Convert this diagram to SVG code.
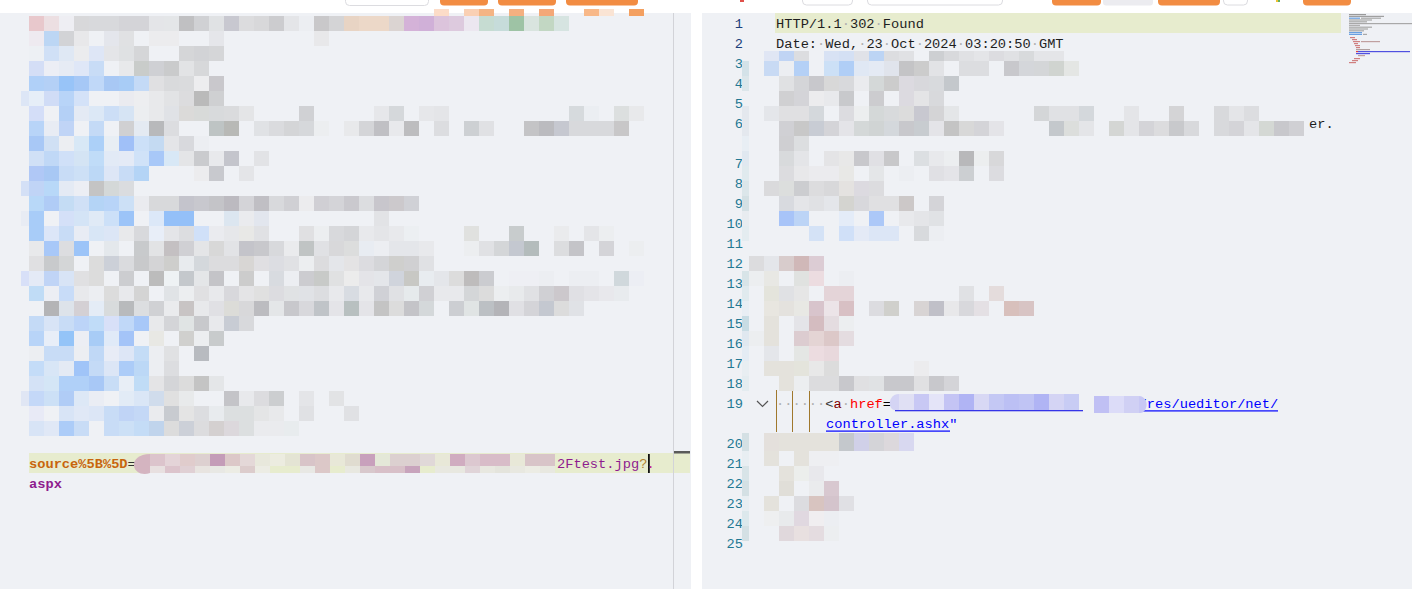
<svg xmlns="http://www.w3.org/2000/svg" width="1412" height="589" viewBox="0 0 1412 589">
<style>
.t{font-family:"Liberation Mono","DejaVu Sans Mono",monospace;font-size:13.7px}
.ln{fill:#237893;text-anchor:end}
.ln0{fill:#1b3f7a;text-anchor:end}
.d{fill:#b0b0b0}
.or{fill:#f28c42}
.ol{fill:#fff;stroke:#dcdce0;stroke-width:1}
.guide{stroke:#a0782d;stroke-width:1}
</style>
<rect width="1412" height="589" fill="#fff"/>
<g id="toolbar">
<rect class="ol" x="345.5" y="-6" width="83" height="11.5" rx="4"/>
<rect class="or" x="440" y="-6" width="48" height="11.5" rx="4"/>
<rect class="or" x="498" y="-6" width="58" height="11.5" rx="4"/>
<rect class="or" x="566" y="-6" width="72" height="11.5" rx="4"/>
<rect x="740" y="0" width="4" height="2" fill="#e0504a"/>
<rect class="ol" x="802.5" y="-6" width="50" height="11" rx="4"/>
<rect class="ol" x="867.5" y="-6" width="135" height="11" rx="4"/>
<rect class="or" x="1052" y="-6" width="49" height="11.5" rx="4"/>
<rect x="1103" y="-6" width="50" height="11.5" rx="3" fill="#ececf0"/>
<rect class="or" x="1158" y="-6" width="62" height="11.5" rx="4"/>
<rect class="ol" x="1223.5" y="-6" width="24" height="11" rx="4"/>
<rect x="1276" y="0" width="2" height="2" fill="#f0c030"/>
<rect x="1278" y="0" width="2" height="2" fill="#60b060"/>
<rect class="or" x="1303" y="-6" width="48" height="11.5" rx="4"/>
</g>
<g id="request-panel">
<rect x="0" y="13" width="691" height="576" fill="#eff1f5"/>
<rect x="29" y="453" width="661" height="20" fill="#e7ecce"/>
<line x1="673.5" y1="13" x2="673.5" y2="589" stroke="#d2d3d8"/>
<rect x="674" y="451" width="16" height="2.5" fill="#5a5a5a"/>
<g id="request-mosaic" shape-rendering="crispEdges">
<g>
<rect x="434" y="9" width="15" height="7" fill="#fcdcc8"/><rect x="464" y="9" width="15" height="7" fill="#fad0b4"/><rect x="479" y="9" width="15" height="7" fill="#f4b484"/><rect x="509" y="9" width="15" height="7" fill="#f4b080"/><rect x="539" y="9" width="15" height="7" fill="#f4a878"/><rect x="584" y="9" width="15" height="7" fill="#f8b888"/><rect x="599" y="9" width="15" height="7" fill="#fae4d4"/><rect x="629" y="9" width="15" height="7" fill="#f4a060"/>
</g>
<g transform="translate(0,16)">
<rect x="29" width="15" height="15" fill="#e8c8cc"/><rect x="44" width="15" height="15" fill="#ecdfe2"/><rect x="59" width="15" height="15" fill="#eeeef3"/><rect x="74" width="15" height="15" fill="#d8d8da"/><rect x="89" width="15" height="15" fill="#d8d9dc"/><rect x="104" width="15" height="15" fill="#d8d9dc"/><rect x="119" width="15" height="15" fill="#d4d4d8"/><rect x="134" width="15" height="15" fill="#d4d4d8"/><rect x="149" width="15" height="15" fill="#e4e5e8"/><rect x="164" width="15" height="15" fill="#e4e6e8"/><rect x="179" width="15" height="15" fill="#c0c0c2"/><rect x="194" width="15" height="15" fill="#d0d1d4"/><rect x="209" width="15" height="15" fill="#e0e2e4"/><rect x="224" width="15" height="15" fill="#c8c8d0"/><rect x="239" width="15" height="15" fill="#dcdcde"/><rect x="254" width="15" height="15" fill="#d8d8da"/><rect x="269" width="15" height="15" fill="#cccccf"/><rect x="284" width="15" height="15" fill="#e4e5e8"/><rect x="299" width="15" height="15" fill="#eceef2"/><rect x="314" width="15" height="15" fill="#c9c8ca"/><rect x="329" width="15" height="15" fill="#d4d4d6"/><rect x="344" width="15" height="15" fill="#e8d4c4"/><rect x="359" width="15" height="15" fill="#ecd8c8"/><rect x="374" width="15" height="15" fill="#ecd8c8"/><rect x="389" width="15" height="15" fill="#dbd4d2"/><rect x="404" width="15" height="15" fill="#d4b2d8"/><rect x="419" width="15" height="15" fill="#d0b0d8"/><rect x="434" width="15" height="15" fill="#dcc4dc"/><rect x="449" width="15" height="15" fill="#ddcade"/><rect x="464" width="15" height="15" fill="#ece7f0"/><rect x="479" width="15" height="15" fill="#c6dcd2"/><rect x="494" width="15" height="15" fill="#c6dcda"/><rect x="509" width="15" height="15" fill="#9ec3a5"/><rect x="524" width="15" height="15" fill="#d9e4df"/><rect x="539" width="15" height="15" fill="#c2d7c3"/><rect x="554" width="15" height="15" fill="#d6e4e1"/>
</g>
<g transform="translate(0,31)">
<rect x="29" width="15" height="15" fill="#eeeaf0"/><rect x="44" width="15" height="15" fill="#bcd6f4"/><rect x="59" width="15" height="15" fill="#d2d3d6"/><rect x="74" width="15" height="15" fill="#e8e8ea"/><rect x="104" width="15" height="15" fill="#e4e6ec"/><rect x="119" width="15" height="15" fill="#e0e1e3"/><rect x="149" width="15" height="15" fill="#ececee"/><rect x="164" width="15" height="15" fill="#ececee"/><rect x="209" width="15" height="15" fill="#e5e6ea"/><rect x="314" width="15" height="15" fill="#e8e8ea"/>
</g>
<g transform="translate(0,46)">
<rect x="29" width="15" height="15" fill="#edf0f4"/><rect x="44" width="15" height="15" fill="#d0e0f6"/><rect x="59" width="15" height="15" fill="#dfe8f4"/><rect x="74" width="15" height="15" fill="#ebecee"/><rect x="89" width="15" height="15" fill="#dee6f6"/><rect x="104" width="15" height="15" fill="#e4e5e8"/><rect x="119" width="15" height="15" fill="#dfe1e3"/><rect x="134" width="15" height="15" fill="#d5d6d8"/><rect x="179" width="15" height="15" fill="#d5d6d8"/><rect x="194" width="15" height="15" fill="#d2d3d6"/><rect x="209" width="15" height="15" fill="#d5d6d8"/>
</g>
<g transform="translate(0,61)">
<rect x="29" width="15" height="15" fill="#d4def6"/><rect x="44" width="15" height="15" fill="#eceef5"/><rect x="59" width="15" height="15" fill="#e6ebf4"/><rect x="74" width="15" height="15" fill="#dfe7f7"/><rect x="89" width="15" height="15" fill="#c8dcf6"/><rect x="119" width="15" height="15" fill="#e8e9eb"/><rect x="134" width="15" height="15" fill="#c9ccca"/><rect x="149" width="15" height="15" fill="#cfd0d4"/><rect x="164" width="15" height="15" fill="#cacbcc"/><rect x="179" width="15" height="15" fill="#e2e3e5"/><rect x="194" width="15" height="15" fill="#d7d8da"/>
</g>
<g transform="translate(0,76)">
<rect x="29" width="15" height="15" fill="#b0d0f8"/><rect x="44" width="15" height="15" fill="#b4d0f6"/><rect x="59" width="15" height="15" fill="#98c4f8"/><rect x="74" width="15" height="15" fill="#a6c8f6"/><rect x="89" width="15" height="15" fill="#c0d8f8"/><rect x="104" width="15" height="15" fill="#a8c8f4"/><rect x="119" width="15" height="15" fill="#a8ccf6"/><rect x="134" width="15" height="15" fill="#c4daf6"/><rect x="149" width="15" height="15" fill="#e0e0e2"/><rect x="164" width="15" height="15" fill="#d9dadc"/><rect x="179" width="15" height="15" fill="#dadbdd"/><rect x="194" width="15" height="15" fill="#ededef"/><rect x="209" width="15" height="15" fill="#c9c8cc"/>
</g>
<g transform="translate(0,91)">
<rect x="21" width="8" height="15" fill="#dde6f6"/><rect x="29" width="15" height="15" fill="#e6eef8"/><rect x="44" width="15" height="15" fill="#d0dcf6"/><rect x="59" width="15" height="15" fill="#b8d4f8"/><rect x="74" width="15" height="15" fill="#d4e2f8"/><rect x="119" width="15" height="15" fill="#eaebf0"/><rect x="134" width="15" height="15" fill="#edeef0"/><rect x="149" width="15" height="15" fill="#e8e9eb"/><rect x="164" width="15" height="15" fill="#e2e3e5"/><rect x="179" width="15" height="15" fill="#dcdcde"/><rect x="194" width="15" height="15" fill="#bababa"/><rect x="209" width="15" height="15" fill="#cfd0d2"/>
</g>
<g transform="translate(0,106)">
<rect x="29" width="15" height="15" fill="#d4def8"/><rect x="59" width="15" height="15" fill="#b4d0f6"/><rect x="74" width="15" height="15" fill="#e4eaf4"/><rect x="89" width="15" height="15" fill="#dce8f6"/><rect x="104" width="15" height="15" fill="#ccdef6"/><rect x="119" width="15" height="15" fill="#d6e4f4"/><rect x="134" width="15" height="15" fill="#eceef0"/><rect x="149" width="15" height="15" fill="#e8e9eb"/><rect x="164" width="15" height="15" fill="#e0e2e6"/><rect x="179" width="15" height="15" fill="#dbdad9"/><rect x="194" width="15" height="15" fill="#d8dad9"/><rect x="209" width="15" height="15" fill="#d8dadc"/><rect x="224" width="15" height="15" fill="#dadbdd"/><rect x="239" width="15" height="15" fill="#e4e5e7"/><rect x="299" width="15" height="15" fill="#d0d1d4"/><rect x="374" width="15" height="15" fill="#e6e7ea"/><rect x="389" width="15" height="15" fill="#d5d8db"/><rect x="419" width="15" height="15" fill="#e6e7ea"/><rect x="434" width="15" height="15" fill="#e4e5e8"/><rect x="569" width="15" height="15" fill="#d6dadd"/><rect x="584" width="15" height="15" fill="#ebeef2"/><rect x="614" width="15" height="15" fill="#dcdfdf"/><rect x="629" width="15" height="15" fill="#e8e9eb"/>
</g>
<g transform="translate(0,121)">
<rect x="29" width="15" height="15" fill="#b8d4f8"/><rect x="44" width="15" height="15" fill="#e8ecf4"/><rect x="59" width="15" height="15" fill="#c0d4f6"/><rect x="89" width="15" height="15" fill="#c4daf6"/><rect x="119" width="15" height="15" fill="#d0d0d2"/><rect x="134" width="15" height="15" fill="#e4eaf2"/><rect x="149" width="15" height="15" fill="#b8b9bb"/><rect x="164" width="15" height="15" fill="#dcdde0"/><rect x="209" width="15" height="15" fill="#bec4c4"/><rect x="224" width="15" height="15" fill="#b8b9b6"/><rect x="254" width="15" height="15" fill="#e0e2e5"/><rect x="269" width="15" height="15" fill="#dadbde"/><rect x="284" width="15" height="15" fill="#d4d5d7"/><rect x="299" width="15" height="15" fill="#d6d8db"/><rect x="314" width="15" height="15" fill="#eceef0"/><rect x="344" width="15" height="15" fill="#e8e9eb"/><rect x="359" width="15" height="15" fill="#d4d5d8"/><rect x="374" width="15" height="15" fill="#c0c0c4"/><rect x="389" width="15" height="15" fill="#e8e9ec"/><rect x="404" width="15" height="15" fill="#bdbdbf"/><rect x="434" width="15" height="15" fill="#dcdde0"/><rect x="464" width="15" height="15" fill="#cdd0d3"/><rect x="479" width="15" height="15" fill="#e0e1e4"/><rect x="524" width="15" height="15" fill="#c4c4c6"/><rect x="539" width="15" height="15" fill="#bbbbbf"/><rect x="554" width="15" height="15" fill="#c6c8d0"/><rect x="569" width="15" height="15" fill="#d8d9dc"/><rect x="584" width="15" height="15" fill="#d8d9dc"/><rect x="599" width="15" height="15" fill="#d8d9dc"/><rect x="614" width="15" height="15" fill="#c8c7c8"/>
</g>
<g transform="translate(0,136)">
<rect x="29" width="15" height="15" fill="#a8c8f6"/><rect x="44" width="15" height="15" fill="#d0e0f4"/><rect x="59" width="15" height="15" fill="#eceef2"/><rect x="74" width="15" height="15" fill="#d8e8f6"/><rect x="89" width="15" height="15" fill="#acd0f8"/><rect x="104" width="15" height="15" fill="#e8eef4"/><rect x="119" width="15" height="15" fill="#a0c0f8"/><rect x="134" width="15" height="15" fill="#cce0f8"/><rect x="149" width="15" height="15" fill="#c4daf2"/><rect x="164" width="15" height="15" fill="#e4e5e8"/><rect x="179" width="15" height="15" fill="#d8d9dd"/><rect x="194" width="15" height="15" fill="#eceef2"/>
</g>
<g transform="translate(0,151)">
<rect x="29" width="15" height="15" fill="#d0e0f6"/><rect x="44" width="15" height="15" fill="#c0d8f6"/><rect x="59" width="15" height="15" fill="#d0e0f8"/><rect x="74" width="15" height="15" fill="#d4e4f4"/><rect x="89" width="15" height="15" fill="#c0dcf8"/><rect x="104" width="15" height="15" fill="#e2eaf6"/><rect x="119" width="15" height="15" fill="#e4eaf6"/><rect x="134" width="15" height="15" fill="#d0e2f8"/><rect x="149" width="15" height="15" fill="#a8c8f8"/><rect x="164" width="15" height="15" fill="#d8e8f6"/><rect x="179" width="15" height="15" fill="#e4e5e7"/><rect x="194" width="15" height="15" fill="#cacbce"/><rect x="209" width="15" height="15" fill="#e8e9ec"/><rect x="224" width="15" height="15" fill="#c4c5cc"/><rect x="254" width="15" height="15" fill="#e2e3e6"/>
</g>
<g transform="translate(0,166)">
<rect x="29" width="15" height="15" fill="#b0c8f6"/><rect x="44" width="15" height="15" fill="#a8c8f4"/><rect x="59" width="15" height="15" fill="#c8dcf6"/><rect x="74" width="15" height="15" fill="#cde0f6"/><rect x="89" width="15" height="15" fill="#bcd8f6"/><rect x="104" width="15" height="15" fill="#dde6f6"/><rect x="119" width="15" height="15" fill="#c8dcf6"/><rect x="134" width="15" height="15" fill="#b4d4f6"/><rect x="194" width="15" height="15" fill="#ececee"/><rect x="209" width="15" height="15" fill="#c8c9ce"/><rect x="239" width="15" height="15" fill="#e4e5e8"/>
</g>
<g transform="translate(0,181)">
<rect x="21" width="8" height="15" fill="#d4e0f6"/><rect x="29" width="15" height="15" fill="#c0d4f6"/><rect x="44" width="15" height="15" fill="#b8d8f8"/><rect x="59" width="15" height="15" fill="#e4eaf4"/><rect x="74" width="15" height="15" fill="#eceef4"/><rect x="89" width="15" height="15" fill="#c4c4c4"/><rect x="104" width="15" height="15" fill="#d4d8d8"/><rect x="119" width="15" height="15" fill="#dadcdf"/>
</g>
<g transform="translate(0,196)">
<rect x="29" width="15" height="15" fill="#b8d8f8"/><rect x="44" width="15" height="15" fill="#b0ccf6"/><rect x="59" width="15" height="15" fill="#c4dcf4"/><rect x="74" width="15" height="15" fill="#d0e0f6"/><rect x="89" width="15" height="15" fill="#b4d4f6"/><rect x="104" width="15" height="15" fill="#b8d4f8"/><rect x="119" width="15" height="15" fill="#cce0f6"/><rect x="134" width="15" height="15" fill="#eaebef"/><rect x="149" width="15" height="15" fill="#d8d9db"/><rect x="164" width="15" height="15" fill="#d8d9db"/><rect x="179" width="15" height="15" fill="#c4c4cc"/><rect x="194" width="15" height="15" fill="#c8c8ce"/><rect x="209" width="15" height="15" fill="#c4c4c8"/><rect x="224" width="15" height="15" fill="#bcbac0"/><rect x="239" width="15" height="15" fill="#d4d4d8"/><rect x="254" width="15" height="15" fill="#c0bfc4"/><rect x="269" width="15" height="15" fill="#d8d9dc"/><rect x="284" width="15" height="15" fill="#d0d0d4"/><rect x="299" width="15" height="15" fill="#ececee"/><rect x="314" width="15" height="15" fill="#d0cfd4"/><rect x="329" width="15" height="15" fill="#d4d4d8"/><rect x="344" width="15" height="15" fill="#cac9ce"/><rect x="359" width="15" height="15" fill="#dcdde0"/><rect x="374" width="15" height="15" fill="#c8c6cc"/><rect x="389" width="15" height="15" fill="#ccc9cc"/><rect x="404" width="15" height="15" fill="#d0d1d6"/>
</g>
<g transform="translate(0,211)">
<rect x="21" width="8" height="15" fill="#e8ecf4"/><rect x="29" width="15" height="15" fill="#a8ccf8"/><rect x="59" width="15" height="15" fill="#d4e0f8"/><rect x="74" width="15" height="15" fill="#d4e4f6"/><rect x="89" width="15" height="15" fill="#e0eaf6"/><rect x="104" width="15" height="15" fill="#cce0f8"/><rect x="119" width="15" height="15" fill="#9cc4f8"/><rect x="149" width="15" height="15" fill="#dce8f8"/><rect x="164" width="15" height="15" fill="#94c0f8"/><rect x="179" width="15" height="15" fill="#94c0f8"/><rect x="224" width="15" height="15" fill="#dce6f0"/><rect x="239" width="15" height="15" fill="#eaebee"/><rect x="254" width="15" height="15" fill="#e2e6ee"/><rect x="374" width="15" height="15" fill="#e2e3e6"/>
</g>
<g transform="translate(0,226)">
<rect x="29" width="15" height="15" fill="#a8ccf8"/><rect x="44" width="15" height="15" fill="#dce6f8"/><rect x="59" width="15" height="15" fill="#c8dcf6"/><rect x="74" width="15" height="15" fill="#e8ecf4"/><rect x="89" width="15" height="15" fill="#d8e6f6"/><rect x="104" width="15" height="15" fill="#dce6f6"/><rect x="119" width="15" height="15" fill="#e8e9eb"/><rect x="134" width="15" height="15" fill="#d8d9dc"/><rect x="149" width="15" height="15" fill="#e8eef8"/><rect x="164" width="15" height="15" fill="#e4e5e8"/><rect x="179" width="15" height="15" fill="#dcdde0"/><rect x="194" width="15" height="15" fill="#d0e0f8"/><rect x="209" width="15" height="15" fill="#eaebef"/><rect x="224" width="15" height="15" fill="#e6e7ea"/><rect x="239" width="15" height="15" fill="#e8e8e6"/><rect x="254" width="15" height="15" fill="#e0e1e4"/><rect x="299" width="15" height="15" fill="#e0e0e2"/><rect x="314" width="15" height="15" fill="#eceef0"/><rect x="329" width="15" height="15" fill="#d8d9dc"/><rect x="344" width="15" height="15" fill="#d4d5d8"/><rect x="359" width="15" height="15" fill="#e8e9ec"/><rect x="374" width="15" height="15" fill="#e4e5e8"/><rect x="389" width="15" height="15" fill="#e8e9ec"/><rect x="404" width="15" height="15" fill="#eceff2"/><rect x="464" width="15" height="15" fill="#e0e1df"/><rect x="509" width="15" height="15" fill="#c8cccd"/><rect x="554" width="15" height="15" fill="#eaebed"/><rect x="584" width="15" height="15" fill="#e4e5e8"/><rect x="599" width="15" height="15" fill="#eceef0"/>
</g>
<g transform="translate(0,241)">
<rect x="29" width="15" height="15" fill="#e8e9eb"/><rect x="44" width="15" height="15" fill="#a8c8f8"/><rect x="59" width="15" height="15" fill="#dcdde0"/><rect x="74" width="15" height="15" fill="#9cc4f8"/><rect x="104" width="15" height="15" fill="#e4e8ec"/><rect x="134" width="15" height="15" fill="#c8cacc"/><rect x="149" width="15" height="15" fill="#e2e3e5"/><rect x="164" width="15" height="15" fill="#c4c0c2"/><rect x="179" width="15" height="15" fill="#d0d0d4"/><rect x="194" width="15" height="15" fill="#e4e5e7"/><rect x="209" width="15" height="15" fill="#d8d8d8"/><rect x="224" width="15" height="15" fill="#e2e3e6"/><rect x="239" width="15" height="15" fill="#c4c4ca"/><rect x="254" width="15" height="15" fill="#c8c8cc"/><rect x="269" width="15" height="15" fill="#d8d9dc"/><rect x="284" width="15" height="15" fill="#eaebed"/><rect x="299" width="15" height="15" fill="#c0c4c4"/><rect x="314" width="15" height="15" fill="#e0e1e4"/><rect x="329" width="15" height="15" fill="#d8d8da"/><rect x="344" width="15" height="15" fill="#dcdddd"/><rect x="359" width="15" height="15" fill="#e8ecf2"/><rect x="374" width="15" height="15" fill="#eceef2"/><rect x="389" width="15" height="15" fill="#e4e6ea"/><rect x="404" width="15" height="15" fill="#e4e6ea"/><rect x="419" width="15" height="15" fill="#e8e9ec"/><rect x="464" width="15" height="15" fill="#eceef0"/><rect x="479" width="15" height="15" fill="#e0e1e4"/><rect x="494" width="15" height="15" fill="#d4d6d8"/><rect x="509" width="15" height="15" fill="#c4c8d0"/><rect x="524" width="15" height="15" fill="#b4bcbc"/><rect x="554" width="15" height="15" fill="#dcdddf"/><rect x="569" width="15" height="15" fill="#c4c4c8"/><rect x="599" width="15" height="15" fill="#d4d4d8"/><rect x="629" width="15" height="15" fill="#eceef0"/>
</g>
<g transform="translate(0,256)">
<rect x="29" width="15" height="15" fill="#e0e0e2"/><rect x="44" width="15" height="15" fill="#c8cacc"/><rect x="59" width="15" height="15" fill="#d4d6d7"/><rect x="89" width="15" height="15" fill="#dcdcdc"/><rect x="104" width="15" height="15" fill="#ccd0d8"/><rect x="119" width="15" height="15" fill="#dadbde"/><rect x="134" width="15" height="15" fill="#c8c9cb"/><rect x="149" width="15" height="15" fill="#d4d4d6"/><rect x="164" width="15" height="15" fill="#cececc"/><rect x="179" width="15" height="15" fill="#e8ebee"/><rect x="194" width="15" height="15" fill="#d4d8dc"/><rect x="209" width="15" height="15" fill="#dcdcde"/><rect x="224" width="15" height="15" fill="#dcdcde"/><rect x="239" width="15" height="15" fill="#d8d6d4"/><rect x="254" width="15" height="15" fill="#e0dfe2"/><rect x="269" width="15" height="15" fill="#dcdde2"/><rect x="284" width="15" height="15" fill="#e0e1e4"/><rect x="299" width="15" height="15" fill="#eceef0"/><rect x="314" width="15" height="15" fill="#dcdcde"/><rect x="329" width="15" height="15" fill="#e4e6ea"/><rect x="344" width="15" height="15" fill="#e4e3e4"/><rect x="359" width="15" height="15" fill="#dcdce0"/><rect x="374" width="15" height="15" fill="#d4d5d8"/><rect x="389" width="15" height="15" fill="#cfcfcd"/><rect x="404" width="15" height="15" fill="#d0d0d2"/><rect x="419" width="15" height="15" fill="#e0e1e4"/>
</g>
<g transform="translate(0,271)">
<rect x="21" width="8" height="15" fill="#d8e0f8"/><rect x="29" width="15" height="15" fill="#e4eaf6"/><rect x="44" width="15" height="15" fill="#c0d4f6"/><rect x="59" width="15" height="15" fill="#d8e4f6"/><rect x="74" width="15" height="15" fill="#e0e0e2"/><rect x="89" width="15" height="15" fill="#dcdcdc"/><rect x="119" width="15" height="15" fill="#cccdd0"/><rect x="149" width="15" height="15" fill="#bcbcbc"/><rect x="164" width="15" height="15" fill="#eef2f4"/><rect x="179" width="15" height="15" fill="#c4c8cc"/><rect x="194" width="15" height="15" fill="#e4e6e8"/><rect x="209" width="15" height="15" fill="#c4c4c8"/><rect x="239" width="15" height="15" fill="#cccccc"/><rect x="269" width="15" height="15" fill="#d8dbe0"/><rect x="284" width="15" height="15" fill="#eceef2"/><rect x="299" width="15" height="15" fill="#ccccd0"/><rect x="314" width="15" height="15" fill="#c8cac8"/><rect x="329" width="15" height="15" fill="#e0e1e2"/><rect x="344" width="15" height="15" fill="#ececec"/><rect x="359" width="15" height="15" fill="#e4e4e8"/><rect x="374" width="15" height="15" fill="#e4e6ea"/><rect x="389" width="15" height="15" fill="#d0d4dc"/><rect x="404" width="15" height="15" fill="#c8c8c4"/><rect x="419" width="15" height="15" fill="#e8ecf0"/><rect x="434" width="15" height="15" fill="#e4e6ea"/><rect x="449" width="15" height="15" fill="#dcdcdc"/><rect x="464" width="15" height="15" fill="#bebcbc"/><rect x="479" width="15" height="15" fill="#cbccd0"/><rect x="509" width="15" height="15" fill="#eeeff4"/><rect x="524" width="15" height="15" fill="#eeeff4"/><rect x="539" width="15" height="15" fill="#eceef2"/><rect x="569" width="15" height="15" fill="#eceef2"/><rect x="584" width="15" height="15" fill="#eceef2"/><rect x="614" width="15" height="15" fill="#d0d8dc"/><rect x="629" width="15" height="15" fill="#eceef4"/>
</g>
<g transform="translate(0,286)">
<rect x="29" width="15" height="15" fill="#c0dcf6"/><rect x="44" width="15" height="15" fill="#eceef4"/><rect x="59" width="15" height="15" fill="#c8dcf8"/><rect x="74" width="15" height="15" fill="#e8e9ec"/><rect x="89" width="15" height="15" fill="#eceef2"/><rect x="104" width="15" height="15" fill="#dcdcdc"/><rect x="119" width="15" height="15" fill="#e8e9ec"/><rect x="134" width="15" height="15" fill="#d4d4d4"/><rect x="164" width="15" height="15" fill="#e0e3e6"/><rect x="179" width="15" height="15" fill="#eceef0"/><rect x="194" width="15" height="15" fill="#e0e0e2"/><rect x="209" width="15" height="15" fill="#e8e9ec"/><rect x="224" width="15" height="15" fill="#d8d8dc"/><rect x="239" width="15" height="15" fill="#e4e4e6"/><rect x="254" width="15" height="15" fill="#e0e0e0"/><rect x="269" width="15" height="15" fill="#dcdce0"/><rect x="284" width="15" height="15" fill="#e0e2e4"/><rect x="299" width="15" height="15" fill="#e0e2e6"/><rect x="314" width="15" height="15" fill="#dcdde0"/><rect x="329" width="15" height="15" fill="#e8e9ec"/><rect x="344" width="15" height="15" fill="#d8dce2"/><rect x="359" width="15" height="15" fill="#e8e9ec"/><rect x="374" width="15" height="15" fill="#d0d1d6"/><rect x="389" width="15" height="15" fill="#e0e1e4"/><rect x="404" width="15" height="15" fill="#e6eaec"/><rect x="419" width="15" height="15" fill="#d0d0d4"/><rect x="434" width="15" height="15" fill="#e8e9ec"/><rect x="449" width="15" height="15" fill="#e8e9ec"/><rect x="464" width="15" height="15" fill="#d4d6d8"/><rect x="479" width="15" height="15" fill="#dcdcdc"/><rect x="494" width="15" height="15" fill="#eceef0"/><rect x="509" width="15" height="15" fill="#e8eaec"/><rect x="524" width="15" height="15" fill="#e0e1e4"/><rect x="539" width="15" height="15" fill="#d0d0d4"/><rect x="554" width="15" height="15" fill="#ccc8cc"/><rect x="569" width="15" height="15" fill="#e0e0e4"/><rect x="584" width="15" height="15" fill="#e4e4e8"/><rect x="599" width="15" height="15" fill="#e8e8ec"/><rect x="614" width="15" height="15" fill="#e8ebee"/>
</g>
<g transform="translate(0,301)">
<rect x="44" width="15" height="15" fill="#b4b4b6"/><rect x="59" width="15" height="15" fill="#dde3ea"/><rect x="74" width="15" height="15" fill="#d4d0d4"/><rect x="89" width="15" height="15" fill="#e4ecf6"/><rect x="104" width="15" height="15" fill="#d8dbdc"/><rect x="119" width="15" height="15" fill="#b8babc"/><rect x="134" width="15" height="15" fill="#dcdee0"/><rect x="149" width="15" height="15" fill="#d0d1d4"/><rect x="164" width="15" height="15" fill="#eaebed"/><rect x="179" width="15" height="15" fill="#c8c4c4"/><rect x="194" width="15" height="15" fill="#e8e9eb"/><rect x="209" width="15" height="15" fill="#e0e0e4"/><rect x="224" width="15" height="15" fill="#dcdcd8"/><rect x="239" width="15" height="15" fill="#d8d8da"/><rect x="254" width="15" height="15" fill="#bcbcc0"/><rect x="269" width="15" height="15" fill="#e4e6e8"/><rect x="284" width="15" height="15" fill="#c8c8cc"/><rect x="299" width="15" height="15" fill="#d8d8dc"/><rect x="314" width="15" height="15" fill="#c0c4c8"/><rect x="329" width="15" height="15" fill="#e4e4e8"/><rect x="344" width="15" height="15" fill="#b8c0c0"/><rect x="359" width="15" height="15" fill="#e4e4e8"/><rect x="374" width="15" height="15" fill="#c4c4c4"/><rect x="389" width="15" height="15" fill="#dcdcdc"/><rect x="404" width="15" height="15" fill="#c4c4c8"/><rect x="419" width="15" height="15" fill="#d4d8da"/><rect x="449" width="15" height="15" fill="#ccced2"/><rect x="464" width="15" height="15" fill="#e0e4e4"/><rect x="479" width="15" height="15" fill="#bcc0c4"/><rect x="494" width="15" height="15" fill="#b4b4b8"/><rect x="509" width="15" height="15" fill="#e0e0e4"/><rect x="524" width="15" height="15" fill="#d4d4d8"/><rect x="539" width="15" height="15" fill="#c4c8d0"/><rect x="554" width="15" height="15" fill="#dcdcdc"/><rect x="569" width="15" height="15" fill="#e0e2e6"/>
</g>
<g transform="translate(0,316)">
<rect x="29" width="15" height="15" fill="#c4daf6"/><rect x="44" width="15" height="15" fill="#d8e4f6"/><rect x="59" width="15" height="15" fill="#c8dcf6"/><rect x="74" width="15" height="15" fill="#bcd4f8"/><rect x="89" width="15" height="15" fill="#c0dcf8"/><rect x="104" width="15" height="15" fill="#d8e0f8"/><rect x="119" width="15" height="15" fill="#c0d8f8"/><rect x="134" width="15" height="15" fill="#a8c8f8"/><rect x="149" width="15" height="15" fill="#e8e9eb"/><rect x="164" width="15" height="15" fill="#d4d5d8"/><rect x="179" width="15" height="15" fill="#e0e4e4"/><rect x="194" width="15" height="15" fill="#c8c9cc"/><rect x="209" width="15" height="15" fill="#e8e9ec"/><rect x="224" width="15" height="15" fill="#c8ccd4"/><rect x="239" width="15" height="15" fill="#d8d9dc"/>
</g>
<g transform="translate(0,331)">
<rect x="29" width="15" height="15" fill="#b8d4f8"/><rect x="44" width="15" height="15" fill="#e8eef8"/><rect x="59" width="15" height="15" fill="#94c4f8"/><rect x="74" width="15" height="15" fill="#eceef4"/><rect x="89" width="15" height="15" fill="#a8ccf6"/><rect x="104" width="15" height="15" fill="#e0eaf8"/><rect x="119" width="15" height="15" fill="#a4c4f8"/><rect x="149" width="15" height="15" fill="#e8e8e4"/><rect x="179" width="15" height="15" fill="#d0d0ce"/><rect x="194" width="15" height="15" fill="#eceef0"/><rect x="209" width="15" height="15" fill="#c8cbcc"/>
</g>
<g transform="translate(0,346)">
<rect x="29" width="15" height="15" fill="#eceef2"/><rect x="44" width="15" height="15" fill="#c8dcf6"/><rect x="59" width="15" height="15" fill="#c8dcf6"/><rect x="74" width="15" height="15" fill="#eceef2"/><rect x="89" width="15" height="15" fill="#c0d8f6"/><rect x="104" width="15" height="15" fill="#e8ecf6"/><rect x="119" width="15" height="15" fill="#dde6f6"/><rect x="134" width="15" height="15" fill="#c4dcf6"/><rect x="149" width="15" height="15" fill="#eceef2"/><rect x="164" width="15" height="15" fill="#e0e1e3"/><rect x="194" width="15" height="15" fill="#b8bbc0"/>
</g>
<g transform="translate(0,361)">
<rect x="29" width="15" height="15" fill="#c4dcf8"/><rect x="44" width="15" height="15" fill="#d8e6f6"/><rect x="59" width="15" height="15" fill="#e4eaf4"/><rect x="74" width="15" height="15" fill="#a0c4f8"/><rect x="89" width="15" height="15" fill="#c4daf6"/><rect x="104" width="15" height="15" fill="#dce6f6"/><rect x="119" width="15" height="15" fill="#acccf8"/><rect x="134" width="15" height="15" fill="#bcd8f6"/><rect x="149" width="15" height="15" fill="#eceef2"/><rect x="164" width="15" height="15" fill="#dcdde0"/>
</g>
<g transform="translate(0,376)">
<rect x="29" width="15" height="15" fill="#d4e2f6"/><rect x="44" width="15" height="15" fill="#d4e6f6"/><rect x="59" width="15" height="15" fill="#b0d0f8"/><rect x="74" width="15" height="15" fill="#b0d0f8"/><rect x="89" width="15" height="15" fill="#a8c8f6"/><rect x="104" width="15" height="15" fill="#c8ddf6"/><rect x="119" width="15" height="15" fill="#e8eef6"/><rect x="134" width="15" height="15" fill="#c0dcf6"/><rect x="149" width="15" height="15" fill="#e4e4e6"/><rect x="164" width="15" height="15" fill="#d4d5d8"/><rect x="179" width="15" height="15" fill="#dcdcdc"/><rect x="194" width="15" height="15" fill="#c4c4c4"/><rect x="209" width="15" height="15" fill="#e4e6e8"/>
</g>
<g transform="translate(0,391)">
<rect x="21" width="8" height="15" fill="#e0e6f4"/><rect x="29" width="15" height="15" fill="#c4d8f8"/><rect x="44" width="15" height="15" fill="#cce0f6"/><rect x="59" width="15" height="15" fill="#b0ccf6"/><rect x="74" width="15" height="15" fill="#dde8f6"/><rect x="89" width="15" height="15" fill="#eaedf4"/><rect x="119" width="15" height="15" fill="#e2ebf6"/><rect x="134" width="15" height="15" fill="#dae6f6"/><rect x="149" width="15" height="15" fill="#d0dcec"/><rect x="164" width="15" height="15" fill="#e0e0e0"/><rect x="179" width="15" height="15" fill="#e8eaeb"/><rect x="224" width="15" height="15" fill="#c4c4c8"/><rect x="239" width="15" height="15" fill="#e8e9ec"/><rect x="254" width="15" height="15" fill="#dcdcdf"/><rect x="269" width="15" height="15" fill="#ccced0"/><rect x="299" width="15" height="15" fill="#e4e5e8"/><rect x="329" width="15" height="15" fill="#e2e3e5"/>
</g>
<g transform="translate(0,406)">
<rect x="29" width="15" height="15" fill="#e8eaf6"/><rect x="59" width="15" height="15" fill="#d8e4f6"/><rect x="74" width="15" height="15" fill="#e0e8f6"/><rect x="89" width="15" height="15" fill="#dce6f6"/><rect x="104" width="15" height="15" fill="#c8dcf6"/><rect x="119" width="15" height="15" fill="#c0d4f6"/><rect x="134" width="15" height="15" fill="#c4d8f6"/><rect x="149" width="15" height="15" fill="#eaebee"/><rect x="164" width="15" height="15" fill="#c8cbd0"/><rect x="179" width="15" height="15" fill="#e4e4e4"/><rect x="194" width="15" height="15" fill="#dcdde0"/><rect x="209" width="15" height="15" fill="#e8ebee"/><rect x="224" width="15" height="15" fill="#dcdfe0"/><rect x="239" width="15" height="15" fill="#dcdfe0"/><rect x="254" width="15" height="15" fill="#e4e5e6"/><rect x="269" width="15" height="15" fill="#e8e9eb"/><rect x="299" width="15" height="15" fill="#e0e1e4"/><rect x="344" width="15" height="15" fill="#e0e1e4"/>
</g>
<g transform="translate(0,421)">
<rect x="29" width="15" height="15" fill="#d8e4f6"/><rect x="44" width="15" height="15" fill="#e0e8f6"/><rect x="59" width="15" height="15" fill="#acccf8"/><rect x="74" width="15" height="15" fill="#c8dcf6"/><rect x="104" width="15" height="15" fill="#c8dcf6"/><rect x="119" width="15" height="15" fill="#cce0f6"/><rect x="134" width="15" height="15" fill="#c4dcf6"/><rect x="149" width="15" height="15" fill="#c0d4ec"/><rect x="164" width="15" height="15" fill="#dcdcdc"/><rect x="179" width="15" height="15" fill="#ccd0d8"/><rect x="194" width="15" height="15" fill="#dcdcde"/><rect x="209" width="15" height="15" fill="#d4d0d0"/><rect x="224" width="15" height="15" fill="#dcd8dc"/><rect x="239" width="15" height="15" fill="#dcdfe0"/><rect x="254" width="15" height="15" fill="#eaebee"/><rect x="269" width="15" height="15" fill="#eaebee"/><rect x="284" width="15" height="15" fill="#e8ecee"/>
</g>
</g>
<g id="request-line">
<text class="t" x="29" y="467.5" font-weight="bold"><tspan fill="#c8650c">source%5B%5D</tspan><tspan fill="#333" font-weight="normal">=</tspan></text>
<g shape-rendering="crispEdges">
<g transform="translate(0,454)">
<rect x="150" width="15" height="12" fill="#dcc4cc"/><rect x="165" width="15" height="12" fill="#e4d4d8"/><rect x="180" width="15" height="12" fill="#e0cccc"/><rect x="195" width="15" height="12" fill="#ddd0d0"/><rect x="210" width="15" height="12" fill="#c49cb8"/><rect x="225" width="15" height="12" fill="#dcc8c8"/><rect x="240" width="15" height="12" fill="#e4d8d8"/><rect x="255" width="15" height="12" fill="#e8e8dc"/><rect x="270" width="15" height="12" fill="#ecece0"/><rect x="285" width="15" height="12" fill="#e4e4d4"/><rect x="300" width="15" height="12" fill="#d8c4c8"/><rect x="315" width="15" height="12" fill="#dcc8c8"/><rect x="330" width="15" height="12" fill="#e8e8d8"/><rect x="345" width="15" height="12" fill="#e0dcd0"/><rect x="360" width="15" height="12" fill="#c8a0bc"/><rect x="375" width="15" height="12" fill="#e4e8d8"/><rect x="390" width="15" height="12" fill="#dcd0d0"/><rect x="405" width="15" height="12" fill="#dcd0d0"/><rect x="420" width="15" height="12" fill="#e0d8d8"/><rect x="435" width="15" height="12" fill="#e8e8d8"/><rect x="450" width="15" height="12" fill="#d0acc0"/><rect x="465" width="15" height="12" fill="#dcc8d0"/><rect x="480" width="15" height="12" fill="#d8bcc8"/><rect x="495" width="15" height="12" fill="#d8bcc8"/><rect x="510" width="15" height="12" fill="#e8e8d8"/><rect x="525" width="15" height="12" fill="#d8c4c8"/><rect x="540" width="15" height="12" fill="#d8c4c8"/>
</g>
<g transform="translate(0,466)">
<rect x="150" width="15" height="7" fill="#e8e0e0"/><rect x="165" width="15" height="7" fill="#dcc4cc"/><rect x="180" width="15" height="7" fill="#e0d0d4"/><rect x="195" width="15" height="7" fill="#e8e4e0"/><rect x="210" width="15" height="7" fill="#e8e8e4"/><rect x="225" width="15" height="7" fill="#ecece4"/><rect x="240" width="15" height="7" fill="#dccccc"/><rect x="255" width="15" height="7" fill="#ecece4"/><rect x="300" width="15" height="7" fill="#e8e8e4"/><rect x="315" width="15" height="7" fill="#dcc8c8"/><rect x="345" width="15" height="7" fill="#e8e8e0"/><rect x="360" width="15" height="7" fill="#d8c8cc"/><rect x="375" width="15" height="7" fill="#d8c0c8"/><rect x="390" width="15" height="7" fill="#d8c0c8"/><rect x="405" width="15" height="7" fill="#c8a4bc"/><rect x="435" width="15" height="7" fill="#e8e8e0"/><rect x="450" width="15" height="7" fill="#e8e8e0"/><rect x="465" width="15" height="7" fill="#e0d4d8"/><rect x="480" width="15" height="7" fill="#e8e8e0"/><rect x="495" width="15" height="7" fill="#e4e4dc"/><rect x="510" width="15" height="7" fill="#e8e8e0"/><rect x="525" width="15" height="7" fill="#ecece4"/><rect x="540" width="15" height="7" fill="#e8e8e0"/>
</g>
</g>
<path d="M150 454 C139 454 133 460 134 466 C135 472 142 476 150 473 Z" fill="#d4b4c0"/>
<text class="t" x="557" y="467.5" fill="#8e1c8e">2Ftest.jpg<tspan fill="#b08030">?</tspan></text>
<rect x="648" y="454" width="1.8" height="19" fill="#111"/>
<text class="t" x="646.5" y="467.5" fill="#c0208f">.</text>
<text class="t" x="29" y="487.5" fill="#8e1c8e" font-weight="bold">aspx</text>
</g>
</g>
<g id="response-panel">
<rect x="702" y="13" width="710" height="576" fill="#eff1f5"/>
<rect x="775" y="13" width="566" height="20" fill="#e7ecce"/>
<g id="line-numbers" class="t">
<text class="ln0" x="743" y="28">1</text>
<text class="ln0" x="743" y="48">2</text>
<text class="ln" x="743" y="68">3</text>
<text class="ln" x="743" y="88">4</text>
<text class="ln" x="743" y="108">5</text>
<text class="ln" x="743" y="128">6</text>
<text class="ln" x="743" y="168">7</text>
<text class="ln" x="743" y="188">8</text>
<text class="ln" x="743" y="208">9</text>
<text class="ln" x="743" y="228">10</text>
<text class="ln" x="743" y="248">11</text>
<text class="ln" x="743" y="268">12</text>
<text class="ln" x="743" y="288">13</text>
<text class="ln" x="743" y="308">14</text>
<text class="ln" x="743" y="328">15</text>
<text class="ln" x="743" y="348">16</text>
<text class="ln" x="743" y="368">17</text>
<text class="ln" x="743" y="388">18</text>
<text class="ln" x="743" y="408">19</text>
<text class="ln" x="743" y="448">20</text>
<text class="ln" x="743" y="468">21</text>
<text class="ln" x="743" y="488">22</text>
<text class="ln" x="743" y="508">23</text>
<text class="ln" x="743" y="528">24</text>
<text class="ln" x="743" y="548">25</text>
</g>
<g id="response-text" class="t">
<text x="776" y="28" fill="#1e1e1e">HTTP/1.1<tspan class="d">·</tspan>302<tspan class="d">·</tspan>Found</text>
<text x="776" y="48" fill="#1e1e1e">Date:<tspan class="d">·</tspan>Wed,<tspan class="d">·</tspan>23<tspan class="d">·</tspan>Oct<tspan class="d">·</tspan>2024<tspan class="d">·</tspan>03:20:50<tspan class="d">·</tspan>GMT</text>
<text x="1309" y="128" fill="#1e1e1e">er.</text>
<text x="776" y="408"><tspan class="d">······</tspan><tspan fill="#383838">&lt;</tspan><tspan fill="#800000">a</tspan><tspan class="d">·</tspan><tspan fill="#ff0000">href</tspan><tspan fill="#000">=</tspan><tspan fill="#0000ff">'</tspan></text>
<text x="1138.6" y="408" fill="#0000ff">/res/ueditor/net/</text>
<rect x="1140" y="410.3" width="138" height="1.2" fill="#0000ff"/>
<text x="826" y="428" fill="#0000ff">controller.ashx"</text>
<rect x="826" y="430.5" width="124" height="1.2" fill="#0000ff"/>
</g>
<polyline points="757,401 762.5,406.5 768,401" fill="none" stroke="#555" stroke-width="1.2"/>
<line class="guide" x1="776.5" y1="390" x2="776.5" y2="432"/>
<line class="guide" x1="792.5" y1="390" x2="792.5" y2="432"/>
<line class="guide" x1="809.5" y1="390" x2="809.5" y2="432"/>
<g id="response-mosaic" shape-rendering="crispEdges">
<g transform="translate(0,51)">
<rect x="764" width="15" height="10" fill="#e0e6f4"/><rect x="779" width="15" height="10" fill="#c0d4f4"/><rect x="794" width="15" height="10" fill="#dcdde0"/><rect x="824" width="15" height="10" fill="#d8e2f4"/><rect x="839" width="15" height="10" fill="#d4e0f4"/><rect x="854" width="15" height="10" fill="#e0e2e8"/><rect x="869" width="15" height="10" fill="#bcd4f4"/><rect x="884" width="15" height="10" fill="#dcdde0"/><rect x="899" width="15" height="10" fill="#e0e1e4"/><rect x="929" width="15" height="10" fill="#cdcfd2"/><rect x="944" width="15" height="10" fill="#d8d9dc"/><rect x="959" width="15" height="10" fill="#e0e1e4"/><rect x="974" width="15" height="10" fill="#e4e5e8"/><rect x="989" width="15" height="10" fill="#dcdce0"/><rect x="1004" width="15" height="10" fill="#e0e1e4"/><rect x="1019" width="15" height="10" fill="#d8dadc"/><rect x="1034" width="15" height="10" fill="#e4e5e8"/><rect x="1049" width="15" height="10" fill="#e4e5e8"/>
</g>
<g transform="translate(0,61)">
<rect x="742" width="7" height="15" fill="#d4e2e8"/><rect x="764" width="15" height="15" fill="#c8daf4"/><rect x="779" width="15" height="15" fill="#eceef2"/><rect x="794" width="15" height="15" fill="#b4d0f6"/><rect x="824" width="15" height="15" fill="#cce0f6"/><rect x="839" width="15" height="15" fill="#b0cef6"/><rect x="854" width="15" height="15" fill="#e0e8f4"/><rect x="869" width="15" height="15" fill="#e4eaf4"/><rect x="884" width="15" height="15" fill="#e0e4ec"/><rect x="899" width="15" height="15" fill="#c4c4c6"/><rect x="914" width="15" height="15" fill="#cccccc"/><rect x="929" width="15" height="15" fill="#e2e3e6"/><rect x="959" width="15" height="15" fill="#dcdde0"/><rect x="974" width="15" height="15" fill="#dcdde0"/><rect x="1004" width="15" height="15" fill="#c8c8cc"/><rect x="1019" width="15" height="15" fill="#d4d6da"/><rect x="1034" width="15" height="15" fill="#d4d6d8"/><rect x="1049" width="15" height="15" fill="#d0d4d0"/><rect x="1064" width="15" height="15" fill="#e4e6e4"/>
</g>
<g transform="translate(0,76)">
<rect x="742" width="7" height="15" fill="#dce6ea"/><rect x="779" width="15" height="15" fill="#e0e1e3"/><rect x="794" width="15" height="15" fill="#d4d5d8"/><rect x="809" width="15" height="15" fill="#c8c8cc"/><rect x="824" width="15" height="15" fill="#d8d8d8"/><rect x="839" width="15" height="15" fill="#d8d9dc"/><rect x="854" width="15" height="15" fill="#eaebee"/><rect x="869" width="15" height="15" fill="#d4d8d8"/><rect x="884" width="15" height="15" fill="#cccccc"/><rect x="899" width="15" height="15" fill="#dcdae0"/><rect x="914" width="15" height="15" fill="#d8d8dc"/><rect x="929" width="15" height="15" fill="#d8dadd"/><rect x="944" width="15" height="15" fill="#c4c8cc"/>
</g>
<g transform="translate(0,91)">
<rect x="779" width="15" height="15" fill="#d0d0d2"/><rect x="794" width="15" height="15" fill="#d4d4d8"/><rect x="809" width="15" height="15" fill="#ececee"/><rect x="824" width="15" height="15" fill="#e8e9ec"/><rect x="839" width="15" height="15" fill="#c8c9cc"/><rect x="869" width="15" height="15" fill="#cccccf"/><rect x="899" width="15" height="15" fill="#dcdae0"/><rect x="914" width="15" height="15" fill="#e4e4e6"/><rect x="929" width="15" height="15" fill="#d8d9dc"/>
</g>
<g transform="translate(0,106)">
<rect x="742" width="7" height="15" fill="#e4e8ee"/><rect x="764" width="15" height="15" fill="#e4e6ea"/><rect x="779" width="15" height="15" fill="#e0e0e2"/><rect x="794" width="15" height="15" fill="#e0e0e2"/><rect x="809" width="15" height="15" fill="#d4d8dc"/><rect x="839" width="15" height="15" fill="#dcdce0"/><rect x="854" width="15" height="15" fill="#eceeef"/><rect x="869" width="15" height="15" fill="#d4d8d8"/><rect x="884" width="15" height="15" fill="#d8dadc"/><rect x="899" width="15" height="15" fill="#dcdcdc"/><rect x="914" width="15" height="15" fill="#c8c8d0"/><rect x="929" width="15" height="15" fill="#d4d4d6"/><rect x="944" width="15" height="15" fill="#e4e6e8"/><rect x="1034" width="15" height="15" fill="#d4d6d8"/><rect x="1049" width="15" height="15" fill="#e0e1e4"/><rect x="1064" width="15" height="15" fill="#e0e1e4"/><rect x="1079" width="15" height="15" fill="#d4d8dc"/><rect x="1124" width="15" height="15" fill="#e4e5e8"/><rect x="1169" width="15" height="15" fill="#d4d4d6"/><rect x="1214" width="15" height="15" fill="#d8d9dc"/><rect x="1229" width="15" height="15" fill="#e4e5e8"/><rect x="1244" width="15" height="15" fill="#dcdde0"/>
</g>
<g transform="translate(0,121)">
<rect x="742" width="7" height="15" fill="#e4e8ee"/><rect x="779" width="15" height="15" fill="#d0d0d4"/><rect x="794" width="15" height="15" fill="#c8c8c8"/><rect x="809" width="15" height="15" fill="#c8ccd4"/><rect x="824" width="15" height="15" fill="#d4d4d8"/><rect x="839" width="15" height="15" fill="#e4e4e8"/><rect x="854" width="15" height="15" fill="#d4d8d8"/><rect x="869" width="15" height="15" fill="#d0d4d4"/><rect x="884" width="15" height="15" fill="#d4d8dc"/><rect x="899" width="15" height="15" fill="#c8c8cc"/><rect x="914" width="15" height="15" fill="#c8ccd0"/><rect x="929" width="15" height="15" fill="#e4e4e8"/><rect x="944" width="15" height="15" fill="#c4c4c4"/><rect x="959" width="15" height="15" fill="#d8d8d8"/><rect x="974" width="15" height="15" fill="#d4d4d8"/><rect x="989" width="15" height="15" fill="#e4e4e8"/><rect x="1049" width="15" height="15" fill="#c4c8cc"/><rect x="1064" width="15" height="15" fill="#dcdedc"/><rect x="1079" width="15" height="15" fill="#e4e5e8"/><rect x="1109" width="15" height="15" fill="#d4d6d4"/><rect x="1124" width="15" height="15" fill="#e4e5e8"/><rect x="1139" width="15" height="15" fill="#d4d4d8"/><rect x="1154" width="15" height="15" fill="#dcdcde"/><rect x="1169" width="15" height="15" fill="#c8c9cc"/><rect x="1184" width="15" height="15" fill="#d8d9dc"/><rect x="1214" width="15" height="15" fill="#d8d9dc"/><rect x="1229" width="15" height="15" fill="#d4d4d8"/><rect x="1244" width="15" height="15" fill="#e4e5e8"/><rect x="1259" width="15" height="15" fill="#d4d8d4"/><rect x="1274" width="15" height="15" fill="#c8c8cc"/><rect x="1289" width="15" height="15" fill="#d0d0d4"/>
</g>
<g transform="translate(0,136)">
<rect x="742" width="7" height="15" fill="#e8eef4"/><rect x="779" width="15" height="15" fill="#cfcfd2"/><rect x="794" width="15" height="15" fill="#dcdee0"/>
</g>
<g transform="translate(0,151)">
<rect x="742" width="7" height="15" fill="#e0e8f0"/><rect x="779" width="15" height="15" fill="#d8dadc"/><rect x="794" width="15" height="15" fill="#e4e5e8"/><rect x="824" width="15" height="15" fill="#e4e4e6"/><rect x="839" width="15" height="15" fill="#e8e8e8"/><rect x="854" width="15" height="15" fill="#c8c8cc"/><rect x="869" width="15" height="15" fill="#e0e0e4"/><rect x="884" width="15" height="15" fill="#c8c8ca"/><rect x="914" width="15" height="15" fill="#dcdfe2"/><rect x="929" width="15" height="15" fill="#e8e9ec"/><rect x="944" width="15" height="15" fill="#eceef0"/><rect x="959" width="15" height="15" fill="#b8b8ba"/><rect x="974" width="15" height="15" fill="#eceeef"/><rect x="989" width="15" height="15" fill="#d8d8da"/>
</g>
<g transform="translate(0,166)">
<rect x="742" width="7" height="15" fill="#e0eaee"/><rect x="779" width="15" height="15" fill="#dcdcdf"/><rect x="794" width="15" height="15" fill="#e8e8ea"/><rect x="809" width="15" height="15" fill="#ebebee"/><rect x="824" width="15" height="15" fill="#ebebee"/><rect x="839" width="15" height="15" fill="#e8e8e6"/><rect x="869" width="15" height="15" fill="#e4e6e8"/><rect x="899" width="15" height="15" fill="#eceef2"/><rect x="929" width="15" height="15" fill="#e0e0e4"/><rect x="944" width="15" height="15" fill="#e4e4e8"/><rect x="959" width="15" height="15" fill="#cccfd2"/><rect x="989" width="15" height="15" fill="#dcdce0"/>
</g>
<g transform="translate(0,181)">
<rect x="742" width="7" height="15" fill="#dce6ea"/><rect x="764" width="15" height="15" fill="#dadadc"/><rect x="779" width="15" height="15" fill="#dcdedd"/><rect x="794" width="15" height="15" fill="#cccdd0"/><rect x="809" width="15" height="15" fill="#dcdcde"/><rect x="824" width="15" height="15" fill="#d8d8da"/><rect x="839" width="15" height="15" fill="#e4e2e0"/><rect x="854" width="15" height="15" fill="#dcdae0"/><rect x="869" width="15" height="15" fill="#dcdcdf"/>
</g>
<g transform="translate(0,196)">
<rect x="742" width="7" height="15" fill="#d4e0e4"/><rect x="779" width="15" height="15" fill="#d8dadf"/><rect x="794" width="15" height="15" fill="#e4e5e8"/><rect x="809" width="15" height="15" fill="#e0e1e4"/><rect x="824" width="15" height="15" fill="#e4e6ea"/><rect x="839" width="15" height="15" fill="#d4d4d0"/><rect x="854" width="15" height="15" fill="#d8d8dc"/><rect x="869" width="15" height="15" fill="#e0e0e2"/><rect x="884" width="15" height="15" fill="#e0e0e2"/><rect x="899" width="15" height="15" fill="#ccc8c8"/><rect x="929" width="15" height="15" fill="#d4d4d8"/>
</g>
<g transform="translate(0,211)">
<rect x="742" width="7" height="15" fill="#e8ecf0"/><rect x="779" width="15" height="15" fill="#a8c4f8"/><rect x="794" width="15" height="15" fill="#bcd4f6"/><rect x="839" width="15" height="15" fill="#e4ecf8"/><rect x="869" width="15" height="15" fill="#acc8f8"/><rect x="899" width="15" height="15" fill="#e8e9ec"/><rect x="914" width="15" height="15" fill="#e4e5e8"/><rect x="929" width="15" height="15" fill="#e0e2e5"/>
</g>
<g transform="translate(0,226)">
<rect x="742" width="7" height="15" fill="#e4ecf0"/><rect x="809" width="15" height="15" fill="#d4e2f6"/><rect x="839" width="15" height="15" fill="#d0e0f8"/><rect x="854" width="15" height="15" fill="#e4eaf6"/><rect x="869" width="15" height="15" fill="#dce6f6"/><rect x="884" width="15" height="15" fill="#dce6f6"/><rect x="914" width="15" height="15" fill="#d8dadd"/><rect x="929" width="15" height="15" fill="#eceef2"/>
</g>
<g transform="translate(0,256)">
<rect x="749" width="15" height="15" fill="#dcdcde"/><rect x="764" width="15" height="15" fill="#e4e6ea"/><rect x="779" width="15" height="15" fill="#d8cccc"/><rect x="794" width="15" height="15" fill="#d0b8b8"/><rect x="809" width="15" height="15" fill="#dcccd4"/>
</g>
<g transform="translate(0,271)">
<rect x="742" width="7" height="15" fill="#d8e4e8"/><rect x="749" width="15" height="15" fill="#eceef0"/><rect x="764" width="15" height="15" fill="#e8e8e4"/><rect x="794" width="15" height="15" fill="#e0e2e0"/><rect x="809" width="15" height="15" fill="#ecdce0"/><rect x="839" width="15" height="15" fill="#eceef2"/>
</g>
<g transform="translate(0,286)">
<rect x="742" width="7" height="15" fill="#e0eaee"/><rect x="764" width="15" height="15" fill="#e4e4dc"/><rect x="779" width="15" height="15" fill="#e0e1e4"/><rect x="794" width="15" height="15" fill="#e6e6e6"/><rect x="824" width="15" height="15" fill="#e4d4d8"/><rect x="839" width="15" height="15" fill="#e4d4d8"/><rect x="959" width="15" height="15" fill="#e0e1e4"/><rect x="989" width="15" height="15" fill="#e4dcdc"/>
</g>
<g transform="translate(0,301)">
<rect x="742" width="7" height="15" fill="#e8eef4"/><rect x="764" width="15" height="15" fill="#e8e6e0"/><rect x="779" width="15" height="15" fill="#e4e2de"/><rect x="794" width="15" height="15" fill="#e8e8e4"/><rect x="809" width="15" height="15" fill="#d8c4cc"/><rect x="824" width="15" height="15" fill="#ece4e8"/><rect x="839" width="15" height="15" fill="#d8c0c4"/><rect x="869" width="15" height="15" fill="#dcdce0"/><rect x="884" width="15" height="15" fill="#d0d0cc"/><rect x="914" width="15" height="15" fill="#d8d4d4"/><rect x="929" width="15" height="15" fill="#c0c0c8"/><rect x="944" width="15" height="15" fill="#e8e8ea"/><rect x="959" width="15" height="15" fill="#d8d8dc"/><rect x="974" width="15" height="15" fill="#e4e0e4"/><rect x="1004" width="15" height="15" fill="#d8c0bc"/><rect x="1019" width="15" height="15" fill="#d8c4c4"/>
</g>
<g transform="translate(0,316)">
<rect x="742" width="7" height="15" fill="#c8dce4"/><rect x="764" width="15" height="15" fill="#e4e2dc"/><rect x="794" width="15" height="15" fill="#e4e4e8"/><rect x="809" width="15" height="15" fill="#d4bcc0"/><rect x="824" width="15" height="15" fill="#e4dce0"/><rect x="839" width="15" height="15" fill="#eceef0"/>
</g>
<g transform="translate(0,331)">
<rect x="742" width="7" height="15" fill="#e0e8f0"/><rect x="749" width="15" height="15" fill="#eceef0"/><rect x="764" width="15" height="15" fill="#e4e2dc"/><rect x="794" width="15" height="15" fill="#dcccd0"/><rect x="809" width="15" height="15" fill="#e4d4d4"/><rect x="824" width="15" height="15" fill="#dcc8c8"/><rect x="839" width="15" height="15" fill="#e4dce0"/>
</g>
<g transform="translate(0,346)">
<rect x="742" width="7" height="15" fill="#e4ecf4"/><rect x="764" width="15" height="15" fill="#e4e6ea"/><rect x="794" width="15" height="15" fill="#e4e6e4"/><rect x="809" width="15" height="15" fill="#ecdce0"/><rect x="824" width="15" height="15" fill="#e8d8dc"/>
</g>
<g transform="translate(0,361)">
<rect x="742" width="7" height="15" fill="#e8eef2"/><rect x="764" width="15" height="15" fill="#e4e2dc"/><rect x="779" width="15" height="15" fill="#e4e2dc"/><rect x="794" width="15" height="15" fill="#e4e4dc"/><rect x="809" width="15" height="15" fill="#e8e8e8"/><rect x="824" width="15" height="15" fill="#dcdcdc"/><rect x="914" width="15" height="15" fill="#ececee"/>
</g>
<g transform="translate(0,376)">
<rect x="742" width="7" height="15" fill="#e4ecf0"/><rect x="779" width="15" height="15" fill="#e4e2dc"/><rect x="794" width="15" height="15" fill="#eceef0"/><rect x="809" width="15" height="15" fill="#dcdcde"/><rect x="824" width="15" height="15" fill="#dcdcde"/><rect x="839" width="15" height="15" fill="#c8c8cc"/><rect x="854" width="15" height="15" fill="#e0e0e2"/><rect x="869" width="15" height="15" fill="#e0e2e4"/><rect x="884" width="15" height="15" fill="#c8c8cc"/><rect x="899" width="15" height="15" fill="#c8c8cc"/><rect x="914" width="15" height="15" fill="#e0e0e2"/><rect x="929" width="15" height="15" fill="#c8c8cc"/><rect x="944" width="15" height="15" fill="#d4d4d8"/>
</g>
<g transform="translate(0,394)">
<rect x="899" width="15" height="16" fill="#e0e0f4"/><rect x="914" width="15" height="16" fill="#c8c8f4"/><rect x="929" width="15" height="16" fill="#e4e4f8"/><rect x="944" width="15" height="16" fill="#c4c4f4"/><rect x="959" width="15" height="16" fill="#b0b4f4"/><rect x="974" width="15" height="16" fill="#d8d8f4"/><rect x="989" width="15" height="16" fill="#c4c8f4"/><rect x="1004" width="15" height="16" fill="#bcc0f4"/><rect x="1019" width="15" height="16" fill="#c0c4f4"/><rect x="1034" width="15" height="16" fill="#b0b4f4"/><rect x="1049" width="15" height="16" fill="#d4d4f4"/><rect x="1064" width="15" height="16" fill="#c8ccf4"/>
</g>
<g transform="translate(0,396)">
<rect x="1094" width="15" height="17" fill="#c0c0f4"/><rect x="1109" width="15" height="17" fill="#dcdcf8"/><rect x="1124" width="15" height="17" fill="#d0d0f4"/>
</g>
<g transform="translate(0,433)">
<rect x="742" width="7" height="18" fill="#d4e0e4"/><rect x="764" width="15" height="18" fill="#e4e0dc"/><rect x="779" width="15" height="18" fill="#e4e2dc"/><rect x="794" width="15" height="18" fill="#e4e2dc"/><rect x="809" width="15" height="18" fill="#e4e2dc"/><rect x="824" width="15" height="18" fill="#e4e2dc"/><rect x="839" width="15" height="18" fill="#c4c8cc"/><rect x="854" width="15" height="18" fill="#d0d0e8"/><rect x="869" width="15" height="18" fill="#d4d4d8"/><rect x="884" width="15" height="18" fill="#dcd8dc"/><rect x="899" width="15" height="18" fill="#d8d8f0"/>
</g>
<g transform="translate(0,451)">
<rect x="742" width="7" height="15" fill="#e8eef2"/><rect x="764" width="15" height="15" fill="#e4e2dc"/><rect x="794" width="15" height="15" fill="#e4e2dc"/><rect x="809" width="15" height="15" fill="#eeeff2"/><rect x="824" width="15" height="15" fill="#eeeff2"/>
</g>
<g transform="translate(0,466)">
<rect x="742" width="7" height="15" fill="#d8e4e8"/><rect x="779" width="15" height="15" fill="#e4e2dc"/><rect x="794" width="15" height="15" fill="#eceeec"/><rect x="809" width="15" height="15" fill="#e8e8ec"/>
</g>
<g transform="translate(0,481)">
<rect x="742" width="7" height="15" fill="#d4e0e4"/><rect x="779" width="15" height="15" fill="#e0ded8"/><rect x="809" width="15" height="15" fill="#eaebed"/><rect x="824" width="15" height="15" fill="#d8c8d0"/>
</g>
<g transform="translate(0,496)">
<rect x="742" width="7" height="15" fill="#e8eef2"/><rect x="764" width="15" height="15" fill="#e4e2dc"/><rect x="794" width="15" height="15" fill="#dcdce0"/><rect x="809" width="15" height="15" fill="#d8c4c0"/><rect x="824" width="15" height="15" fill="#d4c4cc"/><rect x="839" width="15" height="15" fill="#e0e0e4"/>
</g>
<g transform="translate(0,511)">
<rect x="742" width="7" height="15" fill="#dce8ec"/><rect x="764" width="15" height="15" fill="#eeeff0"/><rect x="779" width="15" height="15" fill="#e8eaec"/><rect x="794" width="15" height="15" fill="#e0d8e0"/><rect x="809" width="15" height="15" fill="#f0eef0"/><rect x="824" width="15" height="15" fill="#eceef2"/>
</g>
<g transform="translate(0,526)">
<rect x="742" width="7" height="15" fill="#d4e0e4"/><rect x="779" width="15" height="15" fill="#e0d8dc"/><rect x="794" width="15" height="15" fill="#e8e0e0"/><rect x="809" width="15" height="15" fill="#e4dce0"/><rect x="824" width="15" height="15" fill="#eceef0"/>
</g>
</g>
<path d="M899 394 C892 394 889 400 890 405 C891 410 895 411 899 410 Z" fill="#d4d4f4"/>
<path d="M1139 396 C1145 396 1148 403 1146 408 C1144 413 1141 413 1139 413 Z" fill="#c8c8f4"/>
<rect x="895" y="410" width="188" height="1.3" fill="#3535e8"/>
<g id="minimap">
<rect x="1349" y="14" width="17" height="1.2" fill="#9a9a9a"/>
<rect x="1349" y="15.8" width="35" height="1.2" fill="#a0a0a0"/>
<rect x="1349" y="17.6" width="11" height="1.2" fill="#6aa0e0"/><rect x="1361" y="17.6" width="20" height="1.2" fill="#a8a8a8"/>
<rect x="1349" y="19.4" width="23" height="1.2" fill="#a8a8a8"/>
<rect x="1349" y="21.2" width="18" height="1.2" fill="#a8a8a8"/>
<rect x="1349" y="23" width="63" height="1.2" fill="#a8a8a8"/>
<rect x="1349" y="24.8" width="11" height="1.2" fill="#b0b0b0"/>
<rect x="1349" y="26.6" width="23" height="1.2" fill="#a8a8a8"/>
<rect x="1349" y="28.4" width="19" height="1.2" fill="#a8a8a8"/>
<rect x="1349" y="30.2" width="15" height="1.2" fill="#a8a8a8"/>
<rect x="1349" y="32" width="13" height="1.2" fill="#6aa0e0"/>
<rect x="1349" y="33.8" width="13" height="1.2" fill="#6aa0e0"/><rect x="1363" y="33.8" width="4" height="1.2" fill="#a8a8a8"/>
<rect x="1350" y="37" width="5" height="1.2" fill="#d08080"/>
<rect x="1352" y="39" width="5" height="1.2" fill="#d08080"/>
<rect x="1353" y="41" width="7" height="1.2" fill="#d08080"/><rect x="1361" y="41" width="19" height="1.2" fill="#c0a0a0"/>
<rect x="1354" y="43" width="4" height="1.2" fill="#d08080"/>
<rect x="1355" y="45" width="5" height="1.2" fill="#d08080"/>
<rect x="1356" y="47" width="4" height="1.2" fill="#d08080"/>
<rect x="1356" y="49" width="14" height="1.2" fill="#b0a0a0"/>
<rect x="1356" y="51" width="2" height="1.2" fill="#e04040"/><rect x="1358" y="51" width="52" height="1.2" fill="#5050e0"/>
<rect x="1356" y="53" width="14" height="1.2" fill="#5050e0"/>
<rect x="1358" y="55" width="7" height="1.2" fill="#c0a0a0"/>
<rect x="1354" y="58" width="6" height="1.2" fill="#d08080"/>
<rect x="1352" y="60" width="6" height="1.2" fill="#d08080"/>
<rect x="1349" y="62" width="7" height="1.2" fill="#d08080"/>
</g>
</g>
</svg>
